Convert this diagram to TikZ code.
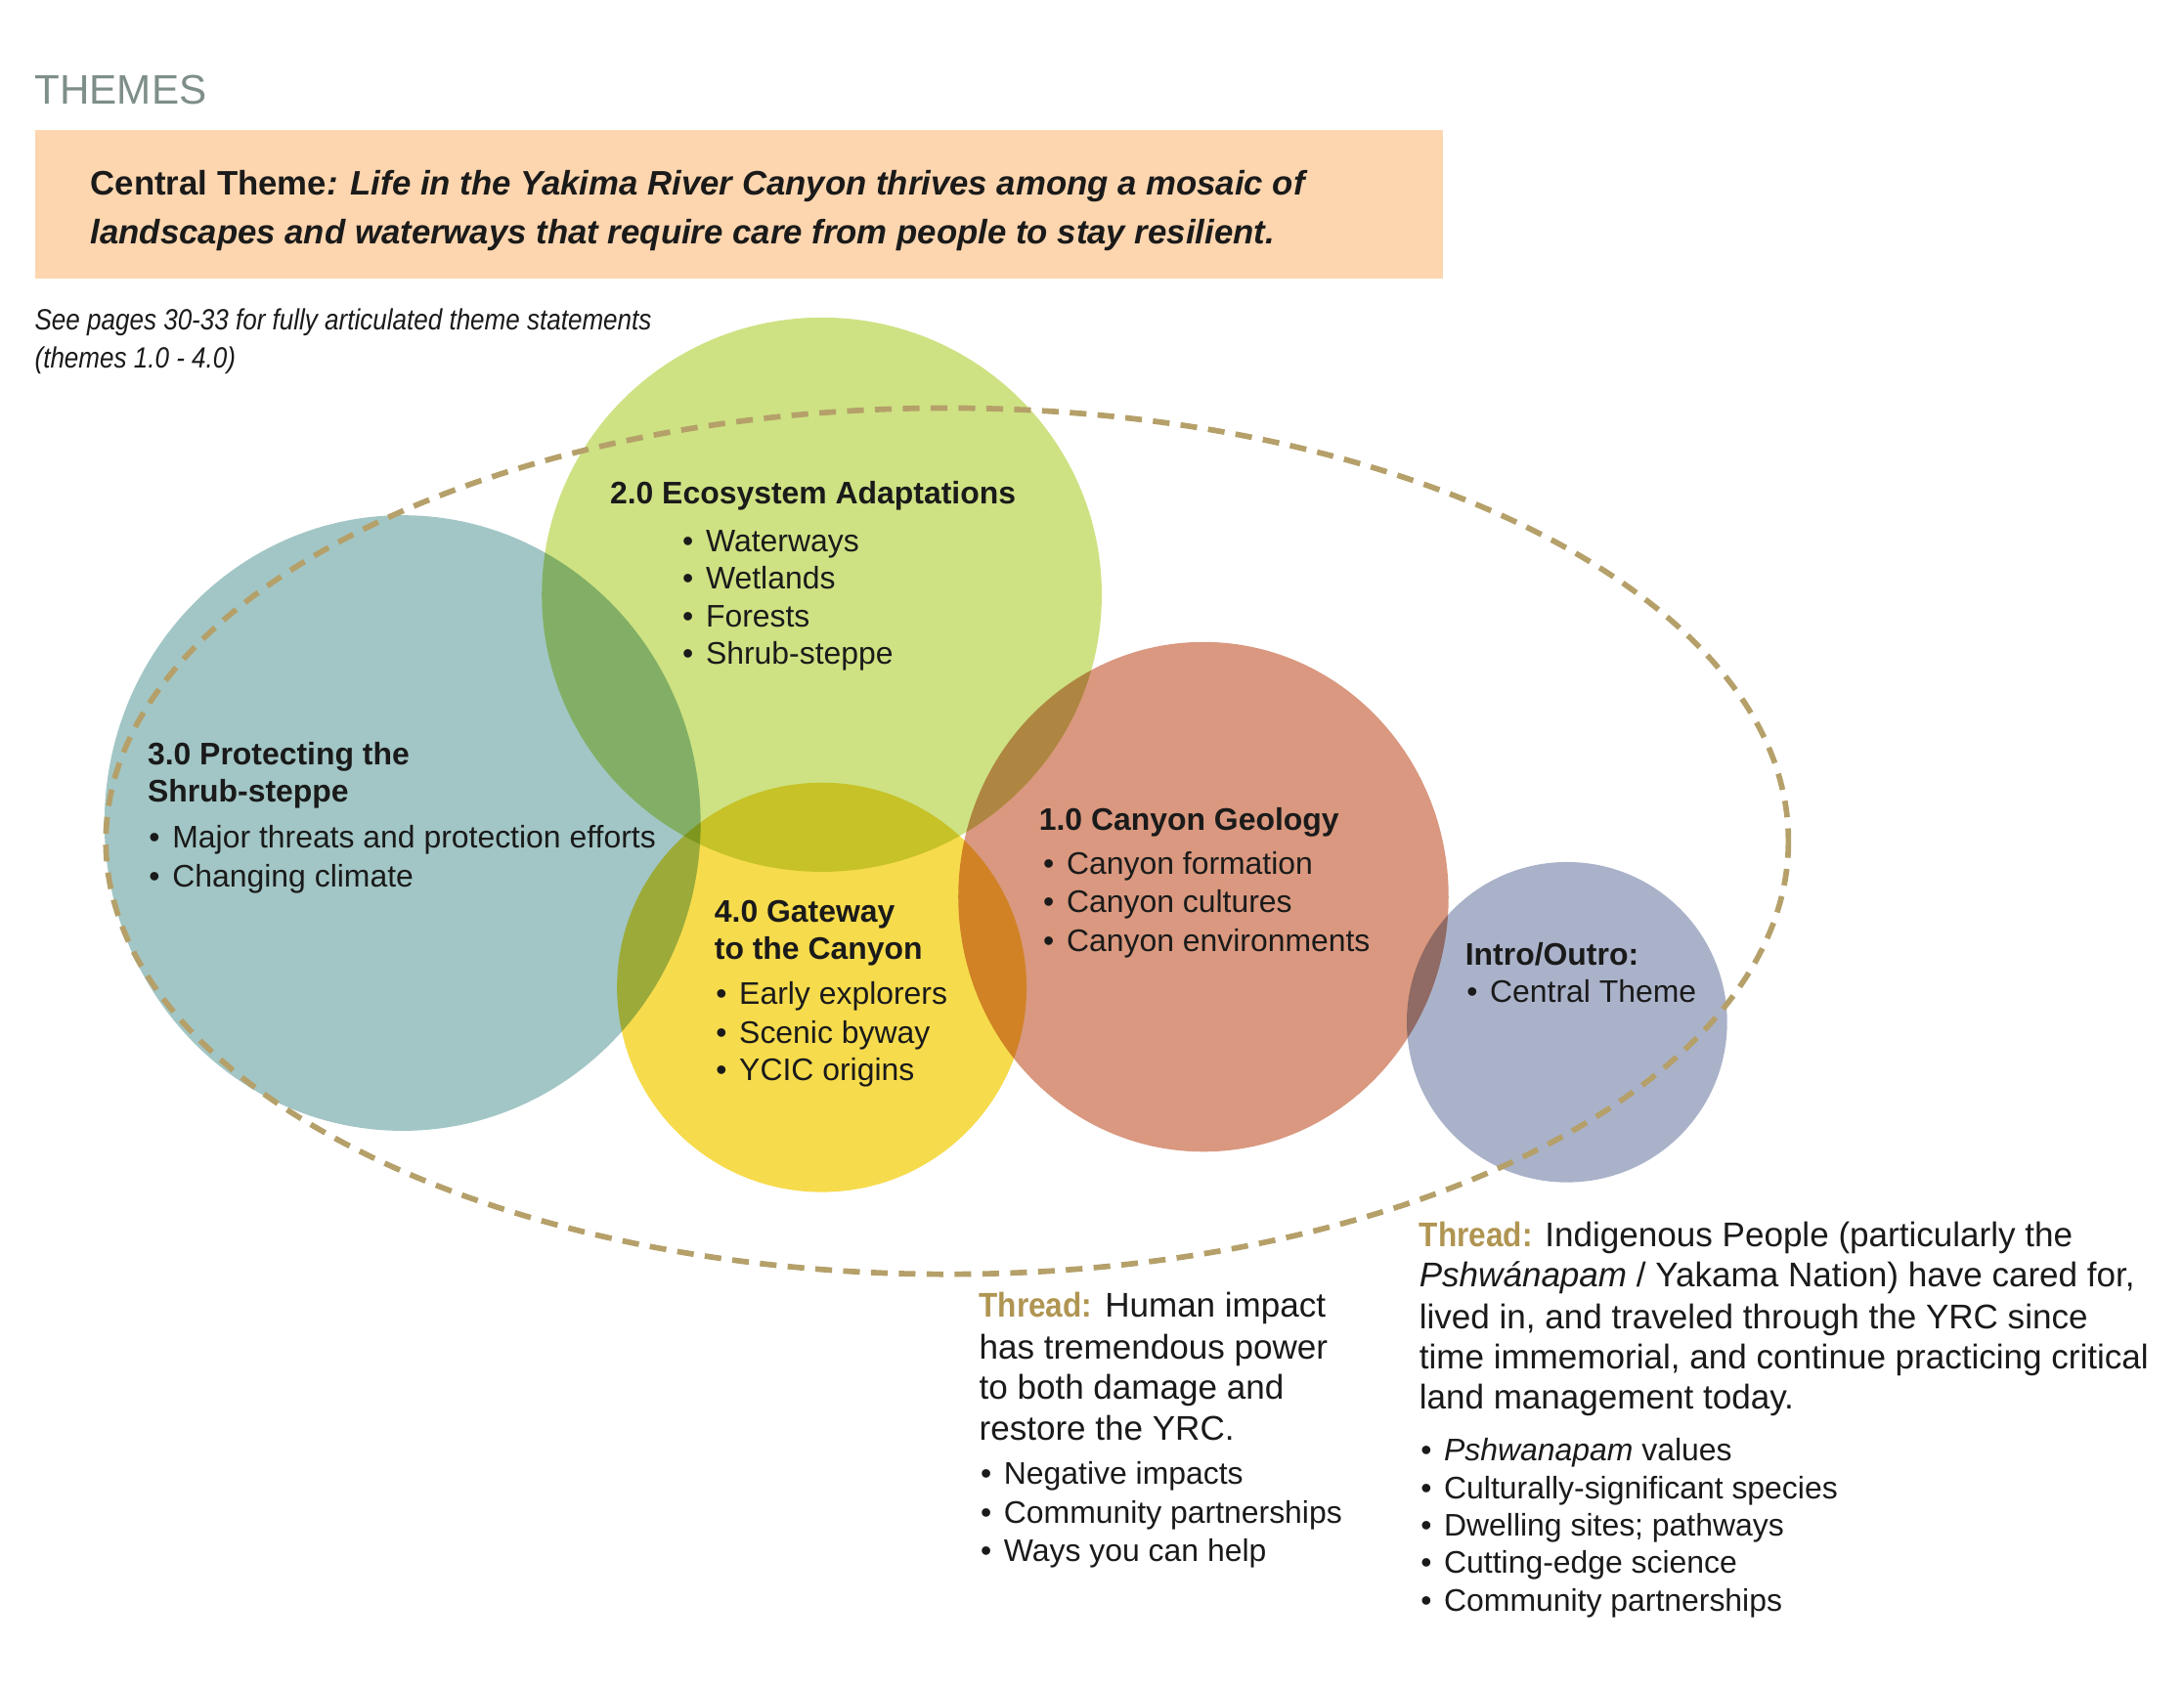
\documentclass[tikz,border=0pt]{standalone}
\usepackage{fontspec}
\setmainfont{Liberation Sans}
\newfontfamily\narrowfont[FakeStretch=0.87]{Liberation Sans}
\newfontfamily\labfont[FakeStretch=0.9]{Liberation Sans}
\definecolor{tealc}{HTML}{A2C6C5}
\definecolor{greenc}{HTML}{CEE283}
\definecolor{yellowc}{HTML}{F6DB4C}
\definecolor{redc}{HTML}{D9987F}
\definecolor{bluec}{HTML}{AAB2CA}
\definecolor{dashc}{HTML}{B5A06A}
\definecolor{peach}{HTML}{FDD6AF}
\definecolor{themec}{HTML}{7E8E88}
\definecolor{threadc}{HTML}{B09552}
\definecolor{txtc}{HTML}{1A1A1A}
\newcommand\bodyf{\fontsize{11.2}{13.4}\selectfont}
\newcommand\threadf{\fontsize{12.3}{14.8}\selectfont}
\newcommand\bul{\makebox[8.4pt][l]{\textbullet}}
\newcommand\threadlab{{\labfont\bfseries\color{threadc}Thread:}}
\newcommand\Ln[4]{\node[txt] (#1) at (#2,#3) {#4};}
\begin{document}
\begin{tikzpicture}[x=0.5pt,y=-0.5pt,
  txt/.style={anchor=base west,inner sep=0pt,outer sep=0pt,text=txtc},
  theme/.style={blend mode=multiply}]
\useasboundingbox (0,0) rectangle (1568,1212);
\fill[white] (0,0) rectangle (1568,1212);
% header
\node[txt,text=themec,font=\fontsize{14.8}{17}\selectfont] (title) at (25,75) {THEMES};
\fill[peach] (25,93) rectangle (1036,200);
\begin{scope}[font=\fontsize{12.2}{14}\selectfont\bfseries]
\Ln{ct1}{65}{140}{Central Theme\itshape: Life in the Yakima River Canyon thrives among a mosaic of}
\Ln{ct2}{65}{175}{\itshape landscapes and waterways that require care from people to stay resilient.}
\end{scope}
\begin{scope}[font=\narrowfont\itshape\fontsize{10.5}{12.6}\selectfont]
\Ln{see1}{25}{237}{See pages 30-33 for fully articulated theme statements}
\Ln{see2}{25}{264}{(themes 1.0 - 4.0)}
\end{scope}
% circles
\begin{scope}[transparency group]
\fill[tealc,theme] (289,591) ellipse [x radius=214,y radius=221];
\fill[greenc,theme] (590,427) ellipse [x radius=201,y radius=199];
\fill[yellowc,theme] (590,709) ellipse [x radius=147,y radius=147];
\fill[redc,theme] (864,644) ellipse [x radius=176,y radius=183];
\fill[bluec,theme] (1125,734) ellipse [x radius=115,y radius=115];
\end{scope}
\draw[dashc,line width=2pt,dash pattern=on 6pt off 4pt] (680,604) ellipse [x radius=604,y radius=311];
% circle texts
\begin{scope}[font=\bodyf]
\Ln{h2}{438}{362}{\bfseries 2.0 Ecosystem Adaptations}
\Ln{b21}{490}{396}{\bul Waterways}
\Ln{b22}{490}{423}{\bul Wetlands}
\Ln{b23}{490}{450}{\bul Forests}
\Ln{b24}{490}{477}{\bul Shrub-steppe}
\Ln{h3a}{106}{549}{\bfseries 3.0 Protecting the}
\Ln{h3b}{106}{576}{\bfseries Shrub-steppe}
\Ln{b31}{107}{609}{\bul Major threats and protection efforts}
\Ln{b32}{107}{637}{\bul Changing climate}
\Ln{h4a}{513}{662}{\bfseries 4.0 Gateway}
\Ln{h4b}{513}{689}{\bfseries to the Canyon}
\Ln{b41}{514}{721}{\bul Early explorers}
\Ln{b42}{514}{749}{\bul Scenic byway}
\Ln{b43}{514}{776}{\bul YCIC origins}
\Ln{h1}{746}{596}{\bfseries 1.0 Canyon Geology}
\Ln{b11}{749}{628}{\bul Canyon formation}
\Ln{b12}{749}{655}{\bul Canyon cultures}
\Ln{b13}{749}{683}{\bul Canyon environments}
\Ln{hi}{1052}{693}{\bfseries Intro/Outro:}
\Ln{bi1}{1053}{720}{\bul Central Theme}
\end{scope}
% threads
\begin{scope}[font=\threadf]
\Ln{tl1}{703}{946}{\threadlab{} Human impact}
\Ln{tl2}{703}{976}{has tremendous power}
\Ln{tl3}{703}{1005}{to both damage and}
\Ln{tl4}{703}{1034}{restore the YRC.}
\Ln{tr1}{1019}{895}{\threadlab{} Indigenous People (particularly the}
\Ln{tr2}{1019}{924}{\textit{Pshwánapam} / Yakama Nation) have cared for,}
\Ln{tr3}{1019}{954}{lived in, and traveled through the YRC since}
\Ln{tr4}{1019}{983}{time immemorial, and continue practicing critical}
\Ln{tr5}{1019}{1012}{land management today.}
\end{scope}
\begin{scope}[font=\bodyf]
\Ln{tlb1}{704}{1066}{\bul Negative impacts}
\Ln{tlb2}{704}{1094}{\bul Community partnerships}
\Ln{tlb3}{704}{1121}{\bul Ways you can help}
\Ln{trb1}{1020}{1049}{\bul \textit{Pshwanapam} values}
\Ln{trb2}{1020}{1076}{\bul Culturally-significant species}
\Ln{trb3}{1020}{1103}{\bul Dwelling sites; pathways}
\Ln{trb4}{1020}{1130}{\bul Cutting-edge science}
\Ln{trb5}{1020}{1157}{\bul Community partnerships}
\end{scope}
\end{tikzpicture}
\end{document}
